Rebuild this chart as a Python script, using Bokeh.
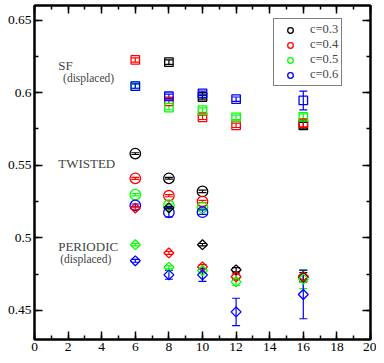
import numpy as np
from bokeh.plotting import figure
from bokeh.models import (ColumnDataSource, Whisker, TeeHead, LinearAxis, Legend,
                          LegendItem, Range1d, FixedTicker, Label)
from bokeh.embed import file_html
from bokeh.resources import INLINE

colors = ["black", "#ff0000", "#00ff00", "#0000ff"]
labels = ["c=0.3", "c=0.4", "c=0.5", "c=0.6"]

# SF (displaced) - squares
sf_x = [[8, 10, 16], [6, 8, 10, 12, 16], [6, 8, 10, 12, 16], [6, 8, 10, 12, 16]]
sf_y = [[0.621, 0.597, 0.5775],
        [0.6225, 0.594, 0.583, 0.5775, 0.579],
        [0.6045, 0.5897, 0.588, 0.583, 0.5833],
        [0.6045, 0.5975, 0.5995, 0.5955, 0.5946]]
sf_e = [[0.0015, 0.0015, 0.002],
        [0.0015, 0.0015, 0.0015, 0.0015, 0.0025],
        [0.0015, 0.0015, 0.0015, 0.0015, 0.002],
        [0.0015, 0.0015, 0.0015, 0.0015, 0.0065]]

# TWISTED - circles
tw_x = [[6, 8, 10], [6, 8, 10], [6, 8, 10], [6, 8, 10]]
tw_y = [[0.558, 0.541, 0.532],
        [0.541, 0.529, 0.525],
        [0.5297, 0.5225, 0.521],
        [0.5223, 0.5175, 0.5177]]
tw_e = [[0.0006, 0.0006, 0.0008],
        [0.0007, 0.0007, 0.0008],
        [0.0008, 0.0008, 0.0008],
        [0.001, 0.003, 0.0015]]

# PERIODIC (displaced) - diamonds
pe_x = [[8, 10, 12, 16], [6, 8, 10, 12, 16], [6, 8, 10, 12, 16], [6, 8, 10, 12, 16]]
pe_y = [[0.5207, 0.4953, 0.478, 0.473],
        [0.5205, 0.4896, 0.480, 0.4732, 0.4735],
        [0.4953, 0.4797, 0.4775, 0.4697, 0.4716],
        [0.4842, 0.4745, 0.4745, 0.449, 0.461]]
pe_e = [[0.0008, 0.0008, 0.0015, 0.003],
        [0.0008, 0.001, 0.0015, 0.002, 0.004],
        [0.0008, 0.001, 0.0015, 0.0025, 0.0065],
        [0.001, 0.003, 0.0045, 0.0094, 0.0167]]

x_ticks = list(range(0, 21, 2))
y_ticks = [0.45, 0.5, 0.55, 0.6, 0.65]

FONT = "Liberation Serif"

p = figure(width=376, height=355, output_backend="svg", toolbar_location=None,
           x_range=Range1d(0, 20), y_range=Range1d(0.43, 0.66),
           min_border_left=34, min_border_right=6, min_border_top=5, min_border_bottom=16)
p.xgrid.visible = False
p.ygrid.visible = False
p.outline_line_color = "black"
p.outline_line_width = 2
p.background_fill_color = "white"
p.border_fill_color = "white"


def style_axis(ax, ticks, minor, labels_on=True):
    ax.ticker = FixedTicker(ticks=ticks, minor_ticks=minor)
    ax.axis_line_width = 2
    ax.axis_line_color = "black"
    ax.major_tick_in = 8
    ax.major_tick_out = 0
    ax.minor_tick_in = 4
    ax.minor_tick_out = 0
    ax.major_tick_line_width = 1.5
    ax.minor_tick_line_width = 1.5
    ax.major_label_text_font = FONT
    ax.major_label_text_font_size = "13.5px"
    ax.major_label_text_color = "black" if labels_on else None
    ax.major_label_standoff = 3 if labels_on else 0


x_minor = list(range(0, 21))
y_minor = [0.425, 0.45, 0.475, 0.5, 0.525, 0.55, 0.575, 0.6, 0.625, 0.65]
style_axis(p.xaxis[0], x_ticks, x_minor)
style_axis(p.yaxis[0], y_ticks, y_minor)

top = LinearAxis()
right = LinearAxis()
style_axis(top, x_ticks, x_minor, labels_on=False)
style_axis(right, y_ticks, y_minor, labels_on=False)
top.major_label_overrides = {t: "" for t in x_ticks}
right.major_label_overrides = {t: "" for t in y_ticks}
p.add_layout(top, "above")
p.add_layout(right, "right")


def draw(xs, ys, es, marker, size, angle=0.0):
    for i, c in enumerate(colors):
        x = np.array(xs[i], dtype=float)
        y = np.array(ys[i], dtype=float)
        e = np.array(es[i], dtype=float)
        src = ColumnDataSource(dict(x=x, y=y, lo=y - e, hi=y + e))
        w = Whisker(source=src, base="x", lower="lo", upper="hi", line_color=c, line_width=1.2,
                    upper_head=TeeHead(size=8, line_color=c, line_width=1.2),
                    lower_head=TeeHead(size=8, line_color=c, line_width=1.2))
        p.add_layout(w)
        p.scatter("x", "y", source=src, marker=marker, size=size, angle=angle,
                  fill_color=None, line_color=c, line_width=1.3)


draw(sf_x, sf_y, sf_e, "square", 8.5)
draw(tw_x, tw_y, tw_e, "circle", 10.5)
draw(pe_x, pe_y, pe_e, "square", 7, angle=np.pi / 4)

# legend (dummy renderers placed outside the visible range)
items = []
for c, lab in zip(colors, labels):
    r = p.scatter(x=[-100.0], y=[-100.0], marker="circle", size=11, fill_color=None,
                  line_color=c, line_width=1.3)
    items.append(LegendItem(label=lab, renderers=[r]))
legend = Legend(items=items, location=(239, 253), orientation="vertical",
                label_text_font=FONT, label_text_font_size="12.5px",
                glyph_width=26, glyph_height=14, label_height=14, label_standoff=7,
                spacing=0, padding=3, margin=0,
                border_line_color="black", border_line_width=1.5,
                background_fill_color="white", background_fill_alpha=1)
p.add_layout(legend, "center")

# annotations
p.add_layout(Label(x=1.41, y=0.619, text="SF", text_font=FONT, text_font_size="13px",
                   text_baseline="middle", text_align="left"))
p.add_layout(Label(x=1.7, y=0.610, text="(displaced)", text_font=FONT, text_font_size="11.5px",
                   text_baseline="middle", text_align="left"))
p.add_layout(Label(x=1.41, y=0.5513, text="TWISTED", text_font=FONT, text_font_size="13px",
                   text_baseline="middle", text_align="left"))
p.add_layout(Label(x=1.41, y=0.4939, text="PERIODIC", text_font=FONT, text_font_size="13px",
                   text_baseline="middle", text_align="left"))
p.add_layout(Label(x=1.53, y=0.4853, text="(displaced)", text_font=FONT, text_font_size="11.5px",
                   text_baseline="middle", text_align="left"))

open("out.html", "w").write(file_html(p, INLINE))
